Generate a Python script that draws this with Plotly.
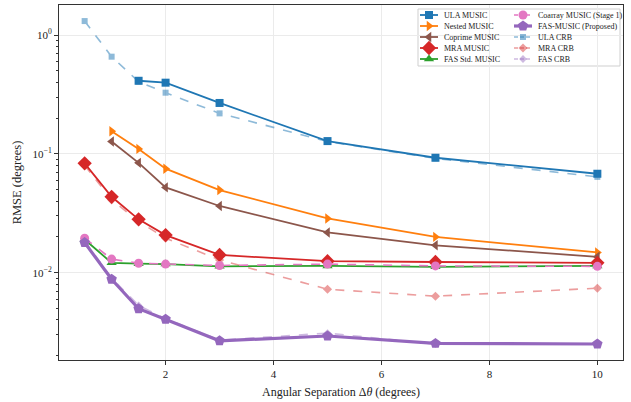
import plotly.graph_objects as go

# Angular separations (degrees)
sep = [0.5, 1, 1.5, 2, 3, 5, 7, 10]

ula_sep = [1.5, 2, 3, 5, 7, 10]
ula_music = [0.412, 0.397, 0.268, 0.128, 0.0927, 0.068]
nested_sep = [1, 1.5, 2, 3, 5, 7, 10]
nested_music = [0.155, 0.110, 0.075, 0.0496, 0.0286, 0.0200, 0.0148]
coprime_sep = [1, 1.5, 2, 3, 5, 7, 10]
coprime_music = [0.127, 0.084, 0.0522, 0.0364, 0.0218, 0.0170, 0.0136]
mra_music = [0.0832, 0.0435, 0.0281, 0.0207, 0.0141, 0.0125, 0.0123, 0.0121]
fas_std_music = [0.0190, 0.0121, 0.0119, 0.0118, 0.0113, 0.0114, 0.0112, 0.0114]
coarray_music = [0.0195, 0.0130, 0.0120, 0.0118, 0.0115, 0.0118, 0.0114, 0.0113]
fas_music = [0.0179, 0.0088, 0.00497, 0.00405, 0.00267, 0.00293, 0.00254, 0.00251]

ula_crb = [1.31, 0.657, 0.405, 0.327, 0.219, 0.127, 0.0915, 0.064]
mra_crb = [0.080, 0.041, 0.027, 0.0195, 0.0128, 0.00725, 0.00634, 0.0074]
fas_crb = [0.0185, 0.0090, 0.0053, 0.0041, 0.0027, 0.0031, 0.0025, 0.0025]

y_ticks = [1, 0.1, 0.01]
y_tick_text = ["10<sup>0</sup>", "10<sup>\u22121</sup>", "10<sup>\u22122</sup>"]
y_minor_ticks = [v * m for v in [0.001, 0.01, 0.1, 1] for m in range(2, 10)]
x_ticks = [2, 4, 6, 8, 10]

FONT = "Liberation Serif"
INK = "#222222"

# Plot-area box in pixels (figure is 631 x 402)
PX0, PX1, PY0, PY1 = 59, 623, 5, 360

# (name, x, y, colour, symbol, marker size, line width, dash, opacity)
crb_specs = [
    ("ULA CRB", sep, ula_crb, "#1f77b4", "square", 6, 1.6, "dash", 0.5),
    ("MRA CRB", sep, mra_crb, "#d62728", "diamond", 7, 1.6, "dash", 0.45),
    ("FAS CRB", sep, fas_crb, "#9467bd", "diamond", 6, 1.6, "dash", 0.45),
]
music_specs = [
    ("ULA MUSIC", ula_sep, ula_music, "#1f77b4", "square", 8, 1.8, "solid", 1),
    ("Nested MUSIC", nested_sep, nested_music, "#ff7f0e", "triangle-right", 9, 1.8, "solid", 1),
    ("Coprime MUSIC", coprime_sep, coprime_music, "#8c564b", "triangle-left", 9, 1.8, "solid", 1),
    ("MRA MUSIC", sep, mra_music, "#d62728", "diamond", 11, 1.8, "solid", 1),
    ("FAS Std. MUSIC", sep, fas_std_music, "#2ca02c", "triangle-up", 9, 1.8, "solid", 1),
    ("Coarray MUSIC (Stage 1)", sep, coarray_music, "#e377c2", "circle", 9, 1.6, "dash", 1),
    ("FAS-MUSIC (Proposed)", sep, fas_music, "#9467bd", "pentagon", 11, 3.2, "solid", 1),
]

fig = go.Figure()

# Bound curves first so the estimator curves sit on top
for name, xs, ys, col, sym, size, lw, dash, op in crb_specs + music_specs:
    fig.add_trace(go.Scatter(
        x=xs, y=ys, name=name, mode="lines+markers", opacity=op,
        line=dict(color=col, width=lw, dash=dash),
        marker=dict(symbol=sym, size=size, color=col),
        showlegend=False,
    ))

# Two-column legend drawn on a hidden overlay axis measured in pixels
legend_order = music_specs + crb_specs
L_X0, L_X1, L_Y0, L_Y1 = 418, 620, 9, 66
col_left = [420, 514]
row_top, row_step = 15, 11
handle = 18
fig.add_shape(
    type="rect", xref="paper", yref="paper",
    x0=(L_X0 - PX0) / (PX1 - PX0), x1=(L_X1 - PX0) / (PX1 - PX0),
    y0=(PY1 - L_Y1) / (PY1 - PY0), y1=(PY1 - L_Y0) / (PY1 - PY0),
    line=dict(color="#cfcfcf", width=1), fillcolor="white",
    layer="below",
)
for i, (name, xs, ys, col, sym, size, lw, dash, op) in enumerate(legend_order):
    c, r = divmod(i, 5)
    lx = col_left[c]
    ly = row_top + r * row_step
    fig.add_trace(go.Scatter(
        x=[lx, lx + handle], y=[ly, ly], mode="lines", opacity=op,
        line=dict(color=col, width=lw, dash=dash if dash == "solid" else "4px,2px"),
        xaxis="x2", yaxis="y2", showlegend=False, hoverinfo="skip",
    ))
    fig.add_trace(go.Scatter(
        x=[lx + handle / 2], y=[ly], mode="markers", opacity=op,
        marker=dict(symbol=sym, size=size, color=col),
        xaxis="x2", yaxis="y2", showlegend=False, hoverinfo="skip",
    ))
    fig.add_annotation(
        x=lx + handle + 4, y=ly, xref="x2", yref="y2", text=name, showarrow=False,
        xanchor="left", yanchor="middle", font=dict(family=FONT, size=8, color=INK),
    )

axis_common = dict(
    showline=True, linecolor="#333333", linewidth=1, mirror=True,
    ticks="outside", ticklen=4, tickcolor="#333333",
    showgrid=True, gridcolor="#ebebeb", gridwidth=1,
    zeroline=False,
    tickfont=dict(family=FONT, size=11, color=INK),
)

fig.update_layout(
    xaxis=dict(
        range=[0.025, 10.475], tickvals=x_ticks,
        title=dict(text="Angular Separation \u0394<i>\u03b8</i> (degrees)",
                   font=dict(family=FONT, size=12, color=INK), standoff=8),
        **axis_common,
    ),
    yaxis=dict(
        type="log", range=[-2.735, 0.2525],
        tickvals=y_ticks, ticktext=y_tick_text,
        minor=dict(ticks="outside", ticklen=2, tickcolor="#333333", showgrid=False,
                   tickmode="array", tickvals=y_minor_ticks),
        title=dict(text="RMSE (degrees)",
                   font=dict(family=FONT, size=12.5, color=INK), standoff=8),
        **axis_common,
    ),
    xaxis2=dict(range=[PX0, PX1], overlaying="x", anchor="y2", visible=False,
                fixedrange=True),
    yaxis2=dict(range=[PY1, PY0], overlaying="y", anchor="x2", visible=False,
                fixedrange=True),
    width=631, height=402,
    margin=dict(l=PX0, r=631 - PX1, t=PY0, b=402 - PY1),
    paper_bgcolor="white", plot_bgcolor="white",
    font=dict(family=FONT, size=8, color=INK),
    showlegend=False,
)

fig.write_html("out.html")
